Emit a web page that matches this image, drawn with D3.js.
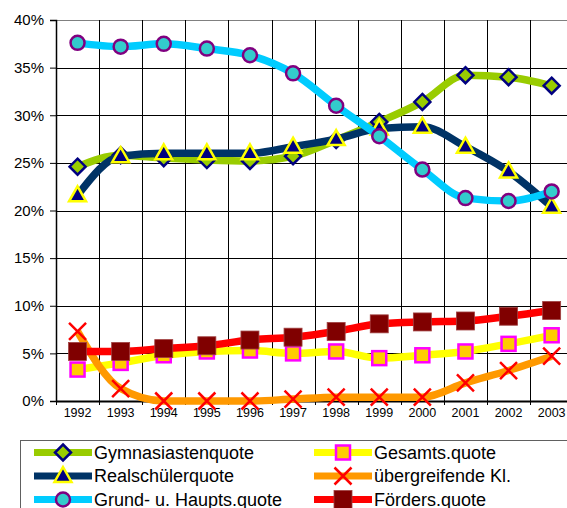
<!DOCTYPE html>
<html>
<head>
<meta charset="utf-8">
<script src="https://cdn.jsdelivr.net/npm/d3@7"></script>
<style>
  html, body { margin: 0; padding: 0; background: #fff; }
  svg { display: block; font-family: Arial, "Liberation Sans", sans-serif; }
</style>
</head>
<body>
<svg id="chart" width="567" height="508"></svg>
<script>
// School-type shares by year
const years = ["1992","1993","1994","1995","1996","1997","1998","1999","2000","2001","2002","2003"];
const gymnasiasten = [24.6, 25.8, 25.5, 25.3, 25.2, 25.7, 27.4, 29.3, 31.4, 34.2, 34.0, 33.1];
const realschueler = [21.6, 25.7, 26.0, 26.0, 26.0, 26.7, 27.5, 28.6, 28.8, 26.7, 24.1, 20.4];
const grundHaupt   = [37.6, 37.2, 37.5, 37.0, 36.3, 34.4, 31.0, 27.8, 24.3, 21.3, 21.0, 22.0];
const gesamt       = [3.3, 4.0, 4.8, 5.2, 5.3, 5.0, 5.2, 4.5, 4.8, 5.2, 6.0, 6.9];
const uebergreif   = [7.3, 1.3, 0.0, 0.0, 0.0, 0.2, 0.4, 0.4, 0.4, 1.9, 3.2, 4.7];
const foerder      = [5.2, 5.2, 5.5, 5.8, 6.4, 6.7, 7.3, 8.1, 8.3, 8.4, 8.9, 9.5];
const yTicks = [0, 5, 10, 15, 20, 25, 30, 35, 40];

const series = [
  { name: "Gymnasiastenquote",       values: gymnasiasten, line: "#99CC00", marker: "diamond",  fill: "#99CC00", stroke: "#000080", col: 0, row: 0 },
  { name: "Realschülerquote",        values: realschueler, line: "#003366", marker: "triangle", fill: "#000080", stroke: "#FFFF00", col: 0, row: 1 },
  { name: "Grund- u. Haupts.quote",  values: grundHaupt,   line: "#00CCFF", marker: "circle",   fill: "#33CCCC", stroke: "#800080", col: 0, row: 2 },
  { name: "Gesamts.quote",           values: gesamt,       line: "#FFFF00", marker: "square",   fill: "#FFCC00", stroke: "#FF00FF", col: 1, row: 0 },
  { name: "übergreifende Kl.",       values: uebergreif,   line: "#FF9900", marker: "cross",    fill: "none",    stroke: "#FF0000", col: 1, row: 1 },
  { name: "Förders.quote",           values: foerder,      line: "#FF0000", marker: "bigsquare",fill: "#800000", stroke: "#800000", col: 1, row: 2 }
];

const svg = d3.select("#chart");
const plotLeft = 56, plotTop = 20, plotBottom = 401, plotRight = 573.2;

const x = d3.scaleBand().domain(years).range([plotLeft, plotRight]).padding(0);
const y = d3.scaleLinear().domain([0, 40]).range([plotBottom, plotTop]);
const cx = d => x(d) + x.bandwidth() / 2;

// grid
const grid = svg.append("g");
grid.selectAll("line.h").data(yTicks.filter(t => t > 0)).join("line")
  .attr("x1", plotLeft).attr("x2", plotRight)
  .attr("y1", d => Math.round(y(d)) + 0.5).attr("y2", d => Math.round(y(d)) + 0.5)
  .attr("stroke", d => d === 40 ? "#808080" : "#000").attr("stroke-width", 1);
grid.selectAll("line.v").data(years.slice(1)).join("line")
  .attr("x1", d => Math.round(x(d)) + 0.5).attr("x2", d => Math.round(x(d)) + 0.5)
  .attr("y1", plotTop).attr("y2", plotBottom)
  .attr("stroke", "#000").attr("stroke-width", 1);

// y axis
const yAxis = svg.append("g").attr("transform", `translate(${plotLeft},0)`)
  .call(d3.axisLeft(y).tickValues(yTicks).tickFormat(d => d + "%").tickSize(6).tickPadding(6));
yAxis.select(".domain").attr("stroke", "#000").attr("stroke-width", 1.5);
yAxis.selectAll(".tick line").attr("stroke", "#000");
yAxis.selectAll(".tick text").attr("font-size", 15).attr("fill", "#000")
  .attr("font-family", "Arial, 'Liberation Sans', sans-serif");

// x axis
const xAxis = svg.append("g").attr("transform", `translate(0,${plotBottom})`)
  .call(d3.axisBottom(x).tickSize(0).tickPadding(7));
xAxis.select(".domain").attr("stroke", "#000").attr("stroke-width", 2);
xAxis.selectAll(".tick text").attr("font-size", 12.5).attr("fill", "#000")
  .attr("font-family", "Arial, 'Liberation Sans', sans-serif");
svg.append("g").selectAll("line").data(years).join("line")
  .attr("x1", d => Math.round(x(d)) + 0.5).attr("x2", d => Math.round(x(d)) + 0.5)
  .attr("y1", plotBottom).attr("y2", plotBottom + 4).attr("stroke", "#000");

// marker drawing
function drawMarker(g, s, px, py) {
  const sw = 2.5;
  if (s.marker === "diamond") {
    const r = 8;
    g.append("path").attr("d", `M${px},${py - r}L${px + r},${py}L${px},${py + r}L${px - r},${py}Z`)
      .attr("fill", s.fill).attr("stroke", s.stroke).attr("stroke-width", sw);
  } else if (s.marker === "triangle") {
    const w = 8.5, hUp = 9, hDn = 6;
    g.append("path").attr("d", `M${px},${py - hUp}L${px + w},${py + hDn}L${px - w},${py + hDn}Z`)
      .attr("fill", s.fill).attr("stroke", s.stroke).attr("stroke-width", sw);
  } else if (s.marker === "circle") {
    g.append("circle").attr("cx", px).attr("cy", py).attr("r", 7)
      .attr("fill", s.fill).attr("stroke", s.stroke).attr("stroke-width", sw);
  } else if (s.marker === "square") {
    const h = 7;
    g.append("rect").attr("x", px - h).attr("y", py - h).attr("width", 2 * h).attr("height", 2 * h)
      .attr("fill", s.fill).attr("stroke", s.stroke).attr("stroke-width", sw);
  } else if (s.marker === "bigsquare") {
    const h = 9;
    g.append("rect").attr("x", px - h).attr("y", py - h).attr("width", 2 * h).attr("height", 2 * h)
      .attr("fill", s.fill).attr("stroke", "#A04040").attr("stroke-width", 0.8);
  } else if (s.marker === "cross") {
    const r = 8.5;
    g.append("path").attr("d", `M${px - r},${py - r}L${px + r},${py + r}M${px - r},${py + r}L${px + r},${py - r}`)
      .attr("fill", "none").attr("stroke", s.stroke).attr("stroke-width", sw);
  }
}

// series lines and markers
const line = d3.line().x((d, i) => cx(years[i])).y(d => y(d)).curve(d3.curveMonotoneX);
series.forEach(s => {
  const g = svg.append("g");
  g.append("path").datum(s.values).attr("d", line)
    .attr("fill", "none").attr("stroke", s.line).attr("stroke-width", 7.5)
    .attr("stroke-linejoin", "round");
  s.values.forEach((v, i) => drawMarker(g, s, cx(years[i]), y(v)));
});

// legend
const lg = svg.append("g");
lg.append("rect").attr("x", 20.5).attr("y", 440.5).attr("width", 560).attr("height", 100)
  .attr("fill", "#fff").attr("stroke", "#606060").attr("stroke-width", 1);
const colX = [34, 314], rowY = [452.5, 476, 499.5];
series.forEach(s => {
  const x0 = colX[s.col], yy = rowY[s.row];
  const g = lg.append("g");
  g.append("line").attr("x1", x0).attr("x2", x0 + 58).attr("y1", yy).attr("y2", yy)
    .attr("stroke", s.line).attr("stroke-width", 7);
  drawMarker(g, s, x0 + 29, yy);
  g.append("text").attr("x", x0 + 60).attr("y", yy).attr("dy", "0.36em")
    .attr("font-size", 18).attr("fill", "#000").text(s.name);
});
</script>
</body>
</html>
